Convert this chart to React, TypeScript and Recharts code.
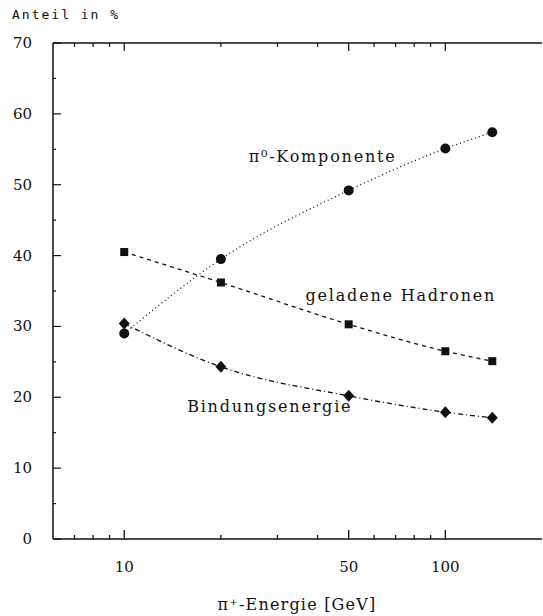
import { LineChart, Line, XAxis, YAxis, ReferenceDot } from "recharts";

// shares (%) of the shower energy vs. pion beam energy
const energies = [10, 20, 50, 100, 140];
const pi0Share = [29.0, 39.5, 49.2, 55.1, 57.4];
const hadronShare = [40.5, 36.2, 30.3, 26.5, 25.1];
const bindingShare = [30.4, 24.3, 20.2, 17.9, 17.1];

const xTicks = [7, 8, 9, 10, 20, 30, 40, 50, 60, 70, 80, 90, 100];
const xLabeled = [10, 50, 100];
const yTicks = [0, 5, 10, 15, 20, 25, 30, 35, 40, 45, 50, 55, 60, 65, 70];
const yLabeled = [0, 10, 20, 30, 40, 50, 60, 70];

const data = energies.map((e, i) => ({
  e,
  pi0: pi0Share[i],
  had: hadronShare[i],
  bind: bindingShare[i],
}));

const INK = "#111";
const serif = "'DejaVu Serif', 'Liberation Serif', serif";

const BottomTick = ({ x, y, payload }: any) => {
  const major = xLabeled.includes(payload.value);
  return (
    <g>
      <line x1={x} x2={x} y1={y} y2={y - (major ? 9 : 4)} stroke={INK} strokeWidth={1.3} />
      {major && (
        <text x={x} y={y + 33} textAnchor="middle" fontFamily={serif} fontSize={15} fill={INK}>
          {payload.value}
        </text>
      )}
    </g>
  );
};

const TopTick = ({ x, y, payload }: any) => {
  const major = xLabeled.includes(payload.value);
  return <line x1={x} x2={x} y1={y} y2={y + (major ? 8 : 4)} stroke={INK} strokeWidth={1.2} />;
};

const LeftTick = ({ x, y, payload }: any) => {
  const major = yLabeled.includes(payload.value);
  return (
    <g>
      <line x1={x} x2={x + (major ? 8 : 3)} y1={y} y2={y} stroke={INK} strokeWidth={1.2} />
      {major && (
        <text x={x - 21} y={y + 5} textAnchor="end" fontFamily={serif} fontSize={15} fill={INK}>
          {payload.value}
        </text>
      )}
    </g>
  );
};

const RightTick = ({ x, y, payload }: any) => {
  const major = yLabeled.includes(payload.value);
  return <line x1={x + 1} x2={x + 1 - (major ? 7 : 3)} y1={y} y2={y} stroke={INK} strokeWidth={1.2} />;
};

const CircleDot = ({ cx, cy }: any) => <circle cx={cx} cy={cy} r={5} fill={INK} />;
const SquareDot = ({ cx, cy }: any) => <rect x={cx - 4} y={cy - 4} width={8} height={8} fill={INK} />;
const DiamondDot = ({ cx, cy }: any) => (
  <polygon points={`${cx},${cy - 6} ${cx + 5.5},${cy} ${cx},${cy + 6} ${cx - 5.5},${cy}`} fill={INK} />
);

// curve annotation, left-aligned at the reference point
const note = (text: string) => ({
  content: ({ viewBox }: any) => (
    <text x={viewBox.x} y={viewBox.y + 5} fontFamily={serif} fontSize={16} letterSpacing={1.8} fill={INK}>
      {text}
    </text>
  ),
});

export default function App() {
  return (
    <div style={{ position: "absolute", left: 0, top: 0, background: "#fff" }}>
      <LineChart width={543} height={616} data={data} margin={{ top: 42, right: 0, bottom: 0, left: 0 }}>
        <XAxis
          dataKey="e"
          type="number"
          scale="log"
          domain={[6, 200]}
          allowDataOverflow
          ticks={xTicks}
          interval={0}
          height={77}
          tickSize={0}
          tickMargin={0}
          tickLine={false}
          tick={BottomTick}
          axisLine={{ stroke: INK, strokeWidth: 1.5 }}
          label={{
            value: "π⁺-Energie [GeV]",
            content: () => (
              <text x={297} y={610} textAnchor="middle" fontFamily={serif} fontSize={16} letterSpacing={1.2} fill={INK}>
                π⁺-Energie [GeV]
              </text>
            ),
          }}
        />
        <XAxis
          xAxisId="top"
          orientation="top"
          dataKey="e"
          type="number"
          scale="log"
          domain={[6, 200]}
          allowDataOverflow
          ticks={xTicks}
          interval={0}
          height={1}
          tickSize={0}
          tickMargin={0}
          tickLine={false}
          tick={TopTick}
          axisLine={{ stroke: INK, strokeWidth: 1.5 }}
        />
        <YAxis
          type="number"
          domain={[0, 70]}
          ticks={yTicks}
          interval={0}
          width={53}
          tickSize={0}
          tickMargin={0}
          tickLine={false}
          tick={LeftTick}
          axisLine={{ stroke: INK, strokeWidth: 1.5 }}
          label={{
            value: "Anteil in %",
            content: () => (
              <text x={12} y={19} fontFamily="'DejaVu Sans Mono', monospace" fontSize={13} letterSpacing={2} fill={INK}>
                Anteil in %
              </text>
            ),
          }}
        />
        <YAxis
          yAxisId="right"
          orientation="right"
          type="number"
          domain={[0, 70]}
          ticks={yTicks}
          interval={0}
          width={1}
          tickSize={0}
          tickMargin={0}
          tickLine={false}
          tick={RightTick}
          axisLine={false}
        />

        <Line
          type="monotone"
          dataKey="pi0"
          stroke={INK}
          strokeWidth={1.3}
          strokeDasharray="1 3"
          dot={CircleDot}
          activeDot={false}
          isAnimationActive={false}
        />
        <Line
          type="monotone"
          dataKey="had"
          stroke={INK}
          strokeWidth={1.3}
          strokeDasharray="4 4"
          dot={SquareDot}
          activeDot={false}
          isAnimationActive={false}
        />
        <Line
          type="monotone"
          dataKey="bind"
          stroke={INK}
          strokeWidth={1.3}
          strokeDasharray="5 3 1 3"
          dot={DiamondDot}
          activeDot={false}
          isAnimationActive={false}
        />

        <ReferenceDot x={24.4} y={53.9} r={0} fill="none" stroke="none" label={note("π⁰-Komponente")} />
        <ReferenceDot x={36.7} y={34.3} r={0} fill="none" stroke="none" label={note("geladene Hadronen")} />
        <ReferenceDot x={15.7} y={18.6} r={0} fill="none" stroke="none" label={note("Bindungsenergie")} />
      </LineChart>
    </div>
  );
}
